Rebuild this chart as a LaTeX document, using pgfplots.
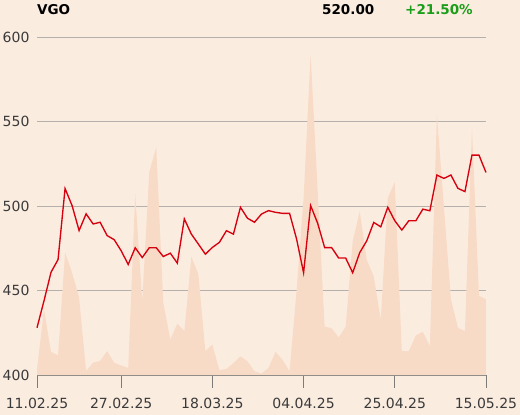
\documentclass[border=0pt]{standalone}
\usepackage{pgfplots}
\pgfplotsset{compat=1.18}
\usepackage{pgfplotstable}
\usepackage{fontspec}
\setmainfont{DejaVu Sans}
\definecolor{bgc}{HTML}{FBECE0}
\definecolor{volc}{HTML}{F8DBC6}
\definecolor{linec}{HTML}{D7000F}
\definecolor{gridc}{HTML}{B5B0AB}
\definecolor{txtc}{HTML}{3A3A3A}
\definecolor{upc}{HTML}{1A9E1A}
\pgfplotstableread{
i price vol
0 428.0 403.4
1 444.0 438.9
2 460.9 413.6
3 468.4 411.7
4 510.5 472.5
5 500.4 460.7
6 485.6 445.8
7 495.5 402.4
8 489.5 407.3
9 490.5 408.3
10 482.6 414.2
11 480.2 407.3
12 473.6 405.6
13 465.5 404.2
14 475.4 507.3
15 469.6 443.8
16 475.4 520.2
17 475.4 535.1
18 470.2 442.9
19 472.2 421.0
20 466.3 430.4
21 492.5 426.0
22 483.5 470.2
23 477.6 459.7
24 471.6 414.1
25 475.6 418.0
26 478.6 402.8
27 485.5 403.6
28 483.5 407.1
29 499.4 411.1
30 492.9 408.1
31 490.5 402.2
32 495.4 400.8
33 497.4 404.2
34 496.4 413.7
35 495.8 409.0
36 495.8 402.2
37 480.6 450.0
38 460.6 505.0
39 500.4 590.0
40 490.0 510.0
41 475.5 428.7
42 475.5 427.7
43 469.3 422.2
44 469.3 428.7
45 460.6 479.2
46 472.5 497.0
47 479.5 468.3
48 490.4 458.4
49 487.8 432.7
50 499.4 505.0
51 491.4 514.3
52 485.9 414.1
53 491.4 414.1
54 491.4 423.5
55 498.3 425.6
56 497.3 417.1
57 518.5 554.6
58 516.5 500.0
59 518.5 445.0
60 510.6 428.0
61 508.7 426.0
62 530.3 546.6
63 530.3 447.0
64 520.0 444.9
}\data
\begin{document}
\begin{tikzpicture}
\fill[bgc] (0,0) rectangle (520pt,415pt);
\useasboundingbox (0,0) rectangle (520pt,415pt);
\begin{axis}[
  at={(37pt,40pt)}, anchor=south west,
  scale only axis, width=449pt, height=337.5pt,
  xmin=0, xmax=64, ymin=400, ymax=600,
  axis x line*=bottom, axis y line*=left,
  x axis line style={draw=gridc!80!black, line width=0.8pt},
  y axis line style={draw=none},
  ytick={400,450,500,550,600},
  ymajorgrids, grid style={draw=gridc, line width=0.8pt},
  xtick={0,12,25,38,51,64},
  xticklabels={11.02.25,27.02.25,18.03.25,04.04.25,25.04.25,15.05.25},
  tick align=outside, major tick length=13pt,
  xtick style={draw=gridc!70!black, line width=0.8pt},
  ytick style={draw=none},
  tick label style={font=\fontsize{14}{16}\selectfont, text=txtc},
  yticklabel style={xshift=9pt},
  xticklabel style={yshift=-7pt},
  /pgf/number format/assume math mode=true,
  clip=false,
]
\addplot[draw=none, fill=volc] table[x=i, y=vol] {\data} \closedcycle;
\addplot[linec, line width=1.35pt] table[x=i, y=price] {\data};
\end{axis}
\node[anchor=base west, inner sep=0pt, font=\bfseries\fontsize{13.5}{15}\selectfont] at (37pt,400pt) {VGO};
\node[anchor=base west, inner sep=0pt, font=\bfseries\fontsize{13.5}{15}\selectfont] at (322pt,400pt) {520.00};
\node[anchor=base west, inner sep=0pt, font=\bfseries\fontsize{13.5}{15}\selectfont, text=upc] at (405pt,400pt) {+21.50\%};
\end{tikzpicture}
\end{document}
